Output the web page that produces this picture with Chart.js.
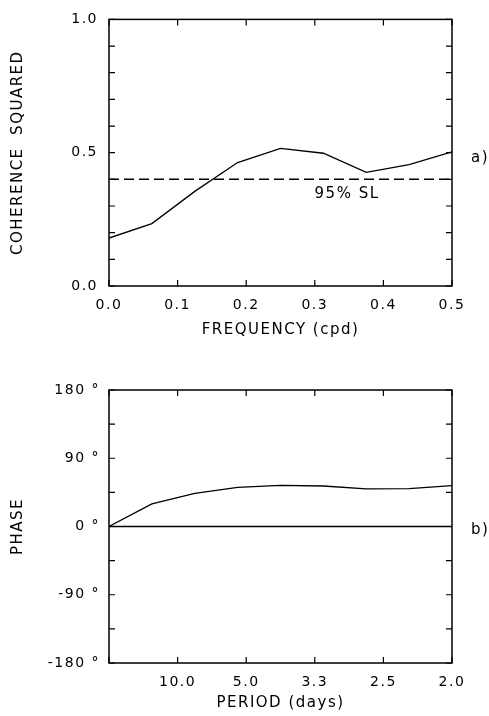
<!DOCTYPE html>
<html>
<head>
<meta charset="utf-8">
<script src="https://cdn.jsdelivr.net/npm/chart.js@4/dist/chart.umd.min.js"></script>
<style>
  body { margin: 0; background: #fff; }
  .painel { position: absolute; left: 0; }
</style>
</head>
<body>
<canvas id="coerencia" class="painel" width="489" height="358" style="top:0"></canvas>
<canvas id="fase" class="painel" width="489" height="358" style="top:358px"></canvas>
<script>
// Frequências (cpd) dos pontos estimados
const frequencias = [0, 0.0625, 0.125, 0.1875, 0.25, 0.3125, 0.375, 0.4375, 0.5];
// a) coerência ao quadrado
const coerencia = [0.18, 0.234, 0.355, 0.463, 0.516, 0.498, 0.426, 0.455, 0.503];
const nivelSignificancia = 0.4; // 95% SL
// b) fase em graus
const fase = [0, 29.7, 43.8, 51.7, 54.3, 53.4, 49.5, 50, 53.8];
// rótulos
const ticksFreq = [0, 0.1, 0.2, 0.3, 0.4, 0.5];
const rotulosCoerencia = [0, 0.5, 1.0];
const rotulosFase = [-180, -90, 0, 90, 180];

const fonteTitulo = { family: '"DejaVu Sans"', size: 15 };
const fonteTick = { family: '"DejaVu Sans"', size: 14 };

// Moldura, marcas internas e anotações
const moldura = {
    id: 'moldura',
    beforeLayout(chart) { chart.ctx.letterSpacing = '1.5px'; },
    beforeDraw(chart) { chart.ctx.letterSpacing = '1.5px'; },
    afterDatasetsDraw(chart, args, opts) {
        const { ctx, chartArea: a, scales: { x, y } } = chart;
        ctx.save();
        ctx.strokeStyle = '#000';
        ctx.lineWidth = 1.5;
        ctx.strokeRect(a.left, a.top, a.right - a.left, a.bottom - a.top);
        ctx.lineWidth = 1.2;
        ctx.beginPath();
        y.ticks.forEach(t => {
            const py = y.getPixelForValue(t.value);
            ctx.moveTo(a.left, py); ctx.lineTo(a.left + 6, py);
            ctx.moveTo(a.right, py); ctx.lineTo(a.right - 6, py);
        });
        x.ticks.forEach(t => {
            const px = x.getPixelForValue(t.value);
            ctx.moveTo(px, a.top); ctx.lineTo(px, a.top + 6);
            ctx.moveTo(px, a.bottom); ctx.lineTo(px, a.bottom - 6);
        });
        ctx.stroke();

        ctx.font = '15px "DejaVu Sans"';
        ctx.letterSpacing = '1.5px';
        ctx.fillStyle = '#000';
        ctx.textBaseline = 'middle';
        (opts.notas || []).forEach(n => {
            const px = (n.xv != null ? x.getPixelForValue(n.xv) : a.right) + (n.dx || 0);
            const py = y.getPixelForValue(n.yv) + (n.dy || 0);
            ctx.textAlign = n.align;
            ctx.fillText(n.texto, px, py);
        });
        ctx.restore();
    }
};

function pontos(xs, ys) {
    return xs.map((v, i) => ({ x: v, y: ys[i] }));
}

function criarPainel(id, cfg) {
    return new Chart(document.getElementById(id), {
        type: 'line',
        data: { datasets: cfg.datasets },
        options: {
            responsive: false,
            animation: false,
            devicePixelRatio: 1,
            layout: { padding: { top: cfg.topo, right: 37, left: 0, bottom: 0 } },
            elements: { point: { radius: 0 }, line: { tension: 0 } },
            plugins: {
                legend: { display: false },
                tooltip: { enabled: false },
                moldura: { notas: cfg.notas }
            },
            scales: {
                x: {
                    type: 'linear',
                    min: 0, max: 0.5,
                    afterBuildTicks: s => { s.ticks = ticksFreq.map(v => ({ value: v })); },
                    afterFit: s => { s.height = cfg.alturaX; },
                    grid: { display: false, drawTicks: false },
                    border: { display: false },
                    ticks: { color: '#000', font: fonteTick, padding: 11, maxRotation: 0, callback: cfg.rotuloX },
                    title: { display: true, text: cfg.tituloX, color: '#000', font: fonteTitulo, padding: { top: 0, bottom: cfg.padTituloX } }
                },
                y: {
                    min: cfg.yMin, max: cfg.yMax,
                    ticks: { stepSize: cfg.passoY, color: '#000', font: fonteTick, padding: cfg.padTickY, callback: cfg.rotuloY },
                    afterFit: s => { s.width = 109; },
                    grid: { display: false, drawTicks: false },
                    border: { display: false },
                    title: { display: true, text: cfg.tituloY, color: '#000', font: fonteTitulo, padding: { top: 9, bottom: 0 } }
                }
            }
        },
        plugins: [moldura]
    });
}

// a) Coerência
criarPainel('coerencia', {
    topo: 14,
    alturaX: 358 - 286,
    padTituloX: 19,
    yMin: 0, yMax: 1, passoY: 0.1, padTickY: 11,
    tituloX: 'FREQUENCY (cpd)',
    tituloY: 'COHERENCE  SQUARED',
    rotuloX: v => v.toFixed(1),
    rotuloY: v => rotulosCoerencia.some(r => Math.abs(r - v) < 1e-6) ? v.toFixed(1) : '',
    datasets: [
        { data: pontos(frequencias, coerencia), borderColor: '#000', borderWidth: 1.3 },
        { data: pontos([0, 0.5], [nivelSignificancia, nivelSignificancia]), borderColor: '#000', borderWidth: 1.5, borderDash: [10, 5] }
    ],
    notas: [
        { texto: '95% SL', xv: 0.347, yv: nivelSignificancia, dy: 15, align: 'center' },
        { texto: 'a)', dx: 19, yv: 0.5, dy: 5, align: 'left' }
    ]
});

// b) Fase
criarPainel('fase', {
    topo: 32,
    alturaX: 358 - 305,
    padTituloX: 4,
    yMin: -180, yMax: 180, passoY: 45, padTickY: 9,
    tituloX: 'PERIOD (days)',
    tituloY: 'PHASE',
    rotuloX: v => v === 0 ? '' : (1 / v).toFixed(1),
    rotuloY: v => rotulosFase.includes(v) ? v + ' °' : '',
    datasets: [
        { data: pontos(frequencias, fase), borderColor: '#000', borderWidth: 1.3 },
        { data: pontos([0, 0.5], [0, 0]), borderColor: '#000', borderWidth: 1.3 }
    ],
    notas: [
        { texto: 'b)', dx: 19, yv: 0, dy: 3.5, align: 'left' }
    ]
});
</script>
</body>
</html>
